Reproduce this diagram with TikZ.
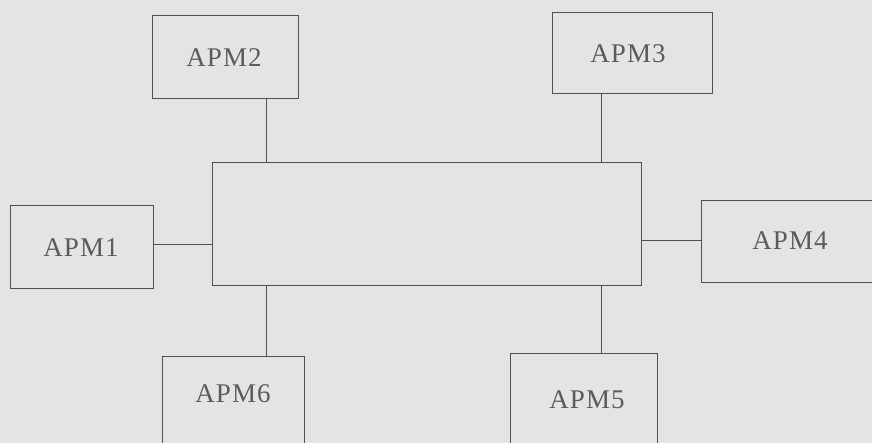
\documentclass[tikz,border=0pt]{standalone}
\usepackage{fontspec}
\setmainfont{Liberation Serif}[LetterSpace=4]
\definecolor{bg}{HTML}{E3E5E2}
\definecolor{ln}{HTML}{505250}
\definecolor{tx}{HTML}{5A5C5A}
\begin{document}
\begin{tikzpicture}[x=1pt,y=-1pt,
  box/.style={draw=ln, line width=0.9pt, rectangle, inner sep=0pt},
  lbl/.style={text=tx, inner sep=0pt, font=\fontsize{27}{30}\selectfont},
  wire/.style={draw=ln, line width=0.9pt}]
\fill[bg] (0,0) rectangle (872,443);
\useasboundingbox (0,0) rectangle (872,443);
\clip (0,0) rectangle (872,443);
% boxes
\node[box, minimum width=146pt, minimum height=83pt] (apm2) at (225,56.5) {};
\node[box, minimum width=160pt, minimum height=81pt] (apm3) at (632,52.5) {};
\node[box, minimum width=429pt, minimum height=123pt] (c) at (426.5,223.5) {};
\node[box, minimum width=143pt, minimum height=83pt] (apm1) at (81.5,246.5) {};
\node[box, minimum width=179pt, minimum height=82pt, anchor=north west] (apm4) at (701,200) {};
\node[box, minimum width=142pt, minimum height=110pt, anchor=north west] (apm6) at (162,356) {};
\node[box, minimum width=147pt, minimum height=110pt, anchor=north west] (apm5) at (510,353) {};
% labels
\node[lbl] (t2) at (224,58) {APM2};
\node[lbl] (t3) at (628,54) {APM3};
\node[lbl] (t1) at (81,248) {APM1};
\node[lbl] (t4) at (790,241) {APM4};
\node[lbl] (t6) at (233,394) {APM6};
\node[lbl] (t5) at (587,400) {APM5};
% connector positions
\coordinate (xl) at (266,0);
\coordinate (xr) at (601,0);
\coordinate (yl) at (0,244);
\coordinate (yr) at (0,240);
% connectors
\draw[wire] (apm2.south -| xl) -- (c.north -| xl);
\draw[wire] (apm3.south -| xr) -- (c.north -| xr);
\draw[wire] (apm1.east |- yl) -- (c.west |- yl);
\draw[wire] (c.east |- yr) -- (apm4.west |- yr);
\draw[wire] (c.south -| xl) -- (apm6.north -| xl);
\draw[wire] (c.south -| xr) -- (apm5.north -| xr);
\end{tikzpicture}
\end{document}
